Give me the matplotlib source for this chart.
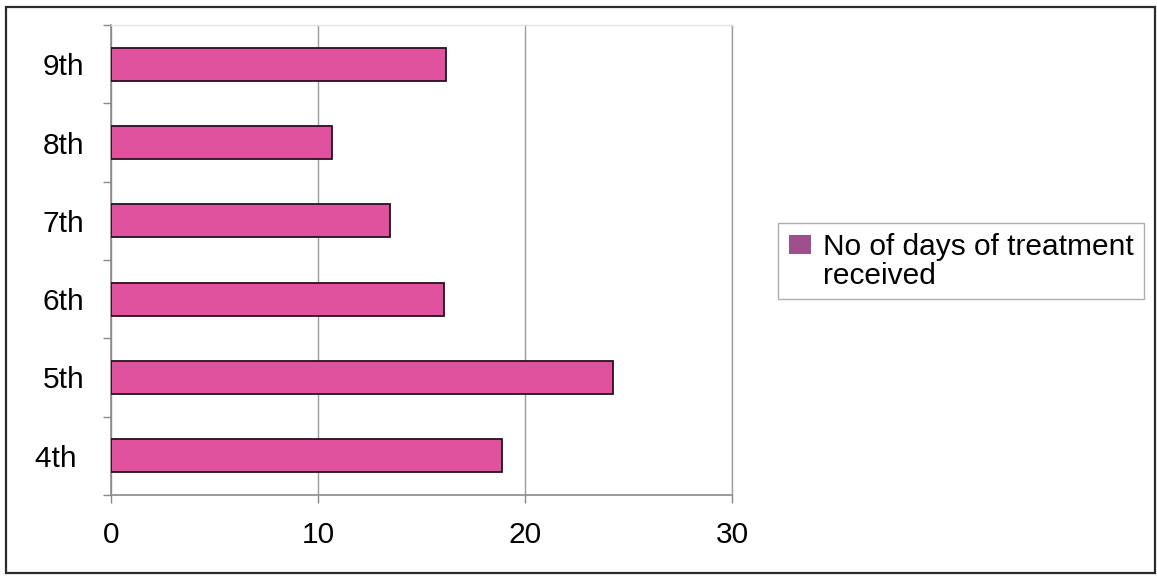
import matplotlib
matplotlib.use("Agg")
import matplotlib.pyplot as plt
from matplotlib.patches import Rectangle
from matplotlib.legend_handler import HandlerPatch
from matplotlib.ticker import FixedLocator

# Treatment days per grade
grades = ["4th ", "5th", "6th", "7th", "8th", "9th"]
days = [18.9, 24.25, 16.1, 13.5, 10.7, 16.2]
series_label = "No of days of treatment\nreceived"
x_ticks = [0, 10, 20, 30]

bar_color = "#E0519E"
legend_color = "#9E4F8E"
font = "Liberation Sans"
fs = 21.5

W, H = 1157, 576
fig = plt.figure(figsize=(W / 100, H / 100), dpi=100)
fig.patch.set_facecolor("white")

ax = fig.add_axes([111 / W, 1 - 495 / H, (732 - 111) / W, (495 - 25) / H])

pos = list(range(len(grades)))
ax.barh(pos, days, height=0.42, color=bar_color, edgecolor="#2a1020",
        linewidth=1.3, zorder=3)

ax.set_xlim(0, 30)
ax.set_ylim(-0.5, len(grades) - 0.5)
ax.set_xticks(x_ticks)
ax.set_xticklabels([str(t) for t in x_ticks], fontsize=fs, family=font)
ax.set_yticks(pos)
ax.set_yticklabels(grades, fontsize=fs, family=font)
ax.yaxis.set_minor_locator(FixedLocator([p - 0.5 for p in pos] + [len(grades) - 0.5]))

ax.tick_params(axis="y", which="major", length=0, pad=19)
ax.tick_params(axis="y", which="minor", length=6, width=1, color="#888888", direction="out")
ax.tick_params(axis="x", which="major", length=6, width=1, color="#888888", pad=13)

ax.grid(axis="x", color="#9a9a9a", linewidth=1, zorder=0)
ax.spines["left"].set_color("#8a8a8a")
ax.spines["bottom"].set_color("#8a8a8a")
ax.spines["left"].set_linewidth(1.2)
ax.spines["bottom"].set_linewidth(1.2)
ax.spines["right"].set_color("#a0a0a0")
ax.spines["right"].set_linewidth(1)
ax.spines["top"].set_color("#e4e4e4")
ax.spines["top"].set_linewidth(1)


class RaisedSquare(HandlerPatch):
    def create_artists(self, legend, orig_handle, xdescent, ydescent,
                       width, height, fontsize, trans):
        w = 0.72 * fontsize
        h = 0.62 * fontsize
        p = Rectangle((-xdescent + (width - w) / 2, -ydescent + fontsize * 0.62),
                      w, h, facecolor=legend_color, edgecolor="none",
                      transform=trans)
        return [p]


handle = Rectangle((0, 0), 1, 1, facecolor=legend_color)
leg = fig.legend([handle], [series_label], loc="upper left",
                 bbox_to_anchor=(778 / W, 1 - 223 / H),
                 bbox_transform=fig.transFigure,
                 prop={"family": font, "size": fs},
                 frameon=True, fancybox=False, edgecolor="#9a9a9a",
                 borderpad=0.32, handlelength=0.85, handletextpad=0.35,
                 borderaxespad=0, labelspacing=0.1,
                 handler_map={Rectangle: RaisedSquare()})
leg.get_frame().set_linewidth(1)
for t in leg.get_texts():
    t.set_linespacing(1.05)

# Outer chart frame
fig.add_artist(Rectangle((6 / W, 3 / H), (1155 - 6) / W, (571 - 5) / H,
                         transform=fig.transFigure, fill=False,
                         edgecolor="#2b2b2b", linewidth=1.6))

fig.savefig("out.png", dpi=100)
